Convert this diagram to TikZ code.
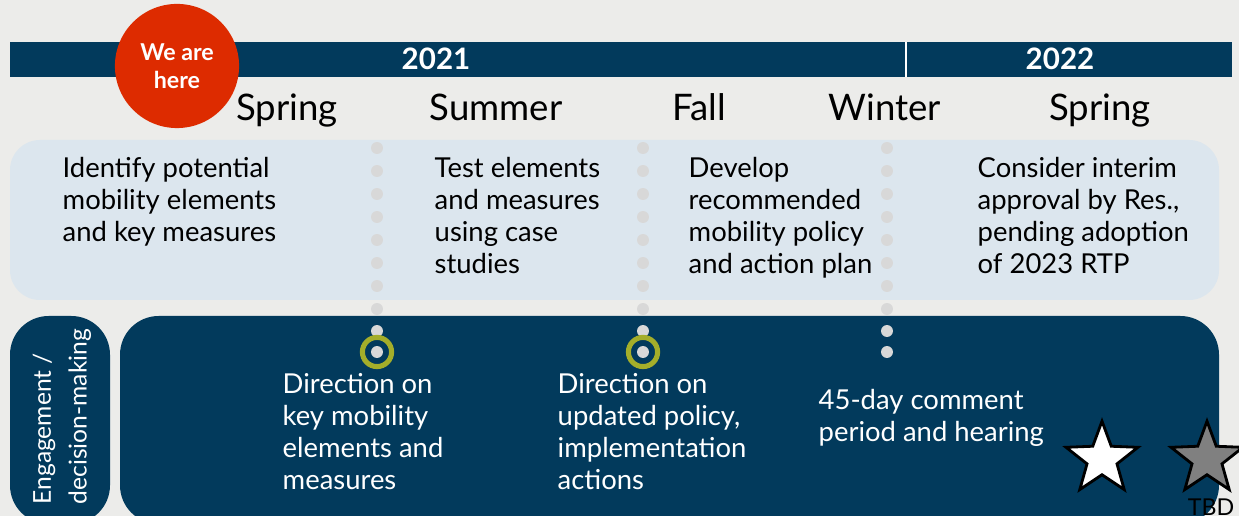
\documentclass[tikz,border=0pt]{standalone}
\usepackage{fontspec}
\setmainfont{Lato}
\usetikzlibrary{shapes.geometric}
\definecolor{navy}{HTML}{023A5C}
\definecolor{pagegray}{HTML}{ECECEA}
\definecolor{paleblue}{HTML}{DCE6EE}
\definecolor{herered}{HTML}{DD2B00}
\definecolor{olive}{HTML}{A4AE2A}
\definecolor{dotgray}{HTML}{D8D8D8}
\begin{document}
\begin{tikzpicture}[x=0.01cm, y=-0.01cm,
    season/.style={anchor=base, inner sep=0pt, font=\fontsize{10.4}{12}\selectfont},
    year/.style={text=white, inner sep=0pt, font=\bfseries\fontsize{8.4}{10}\selectfont},
    task/.style={anchor=north west, inner sep=0pt, align=left, font=\fontsize{7.8}{9.1}\selectfont},
    event/.style={task, text=white},
    ring/.style={circle, draw=olive, line width=1.45pt, minimum size=8.3pt, inner sep=0pt},
    milestone/.style={star, star points=5, star point ratio=2.4, minimum size=21.5pt,
        inner sep=0pt, draw=black, line width=0.8pt}]
    \clip (0,0) rectangle (1239,516);
    \fill[pagegray] (0,0) rectangle (1239,516);

    % year bar
    \fill[navy] (10,42) rectangle (1232,77);
    \draw[white, line width=0.6pt] (906,42) -- (906,77);
    \node[year] (y2021) at (436,59) {2021};
    \node[year] (y2022) at (1060,59) {2022};

    % seasons
    \node[season] (spring1) at (287,121) {Spring};
    \node[season] (summer) at (496,121) {Summer};
    \node[season] (fall) at (699,121) {Fall};
    \node[season] (winter) at (885,121) {Winter};
    \node[season] (spring2) at (1100,121) {Spring};

    % panels
    \fill[paleblue, rounded corners=8.5pt] (10,140) rectangle (1219,300);
    \fill[navy, rounded corners=11pt] (10,316) rectangle (110,524);
    \fill[navy, rounded corners=11pt] (120,316) rectangle (1219,524);

    % dotted season dividers
    \foreach \x in {377,643,887}
        \foreach \y in {148,171,...,309}
            \fill[dotgray] (\x,\y) circle (1.7pt);
    \foreach \x in {377,643,887}
        \fill[dotgray] (\x,331) circle (1.7pt);
    \fill[dotgray] (887,352) circle (1.7pt);
    \node[ring] (dir1) at (377,352) {};
    \node[ring] (dir2) at (643,352) {};
    \fill[dotgray] (dir1) circle (1.7pt);
    \fill[dotgray] (dir2) circle (1.7pt);

    % "we are here" marker
    \node[circle, fill=herered, minimum size=35.3pt, inner sep=0pt, text=white, align=center,
        font=\bfseries\fontsize{6.6}{8}\selectfont] (here) at (177,66) {We are\\here};

    % work steps
    \node[task] (identify) at (62,157) {Identify potential\\mobility elements\\and key measures};
    \node[task] (test) at (434,157) {Test elements\\and measures\\using case\\studies};
    \node[task] (develop) at (688,157) {Develop\\recommended\\mobility policy\\and action plan};
    \node[task] (consider) at (977,157) {Consider interim\\approval by Res.,\\pending adoption\\of 2023 RTP};

    % engagement row
    \node[rotate=90, anchor=north west, inner sep=0pt, align=left, text=white,
        font=\fontsize{7}{10.2}\selectfont] (engage) at (32,505) {Engagement /\\decision-making};
    \node[event] (keydir) at (282,373) {Direction on\\key mobility\\elements and\\measures};
    \node[event] (policydir) at (557,373) {Direction on\\updated policy,\\implementation\\actions};
    \node[event] (comment) at (818,389) {45-day comment\\period and hearing};
    \node[milestone, fill=white] (adopt) at (1102,459) {};
    \node[milestone, fill=gray] (tbd) at (1207,459) {};
    \node[font=\fontsize{6.6}{8}\selectfont, inner sep=0pt] (tbdlabel) at (1211,507) {TBD};
\end{tikzpicture}
\end{document}
